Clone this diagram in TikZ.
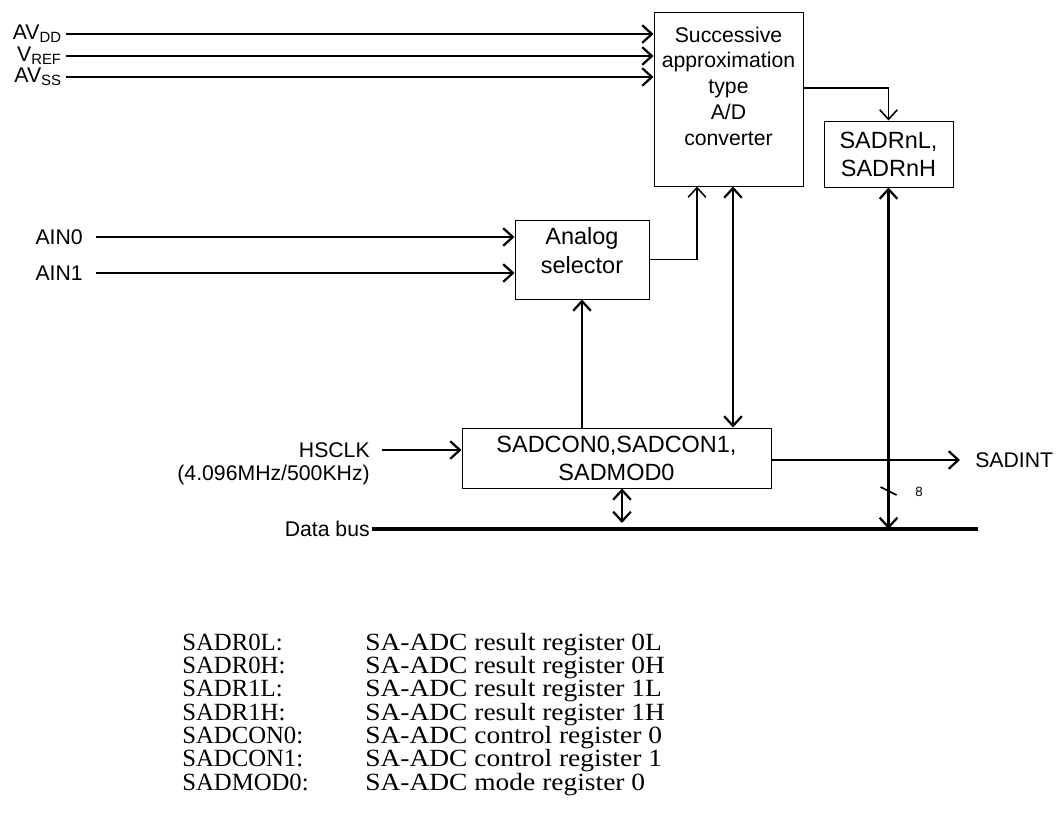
\documentclass[tikz,border=0pt]{standalone}
\usepackage{fontspec}
\setmainfont{Liberation Sans}
\newfontfamily\legendfont{Liberation Serif}
\newfontfamily\descfont[FakeStretch=1.11]{Liberation Serif}
\usetikzlibrary{positioning,arrows.meta,calc}
\tikzset{
  block/.style={draw,line width=0.7pt,align=center,inner sep=0pt,font=\fontsize{16.7}{20}\selectfont},
  signame/.style={inner sep=0pt,font=\fontsize{15.1}{18}\selectfont},
  sig/.style={-{Straight Barb[length=2.4mm,width=4.4mm]},line width=1.6pt},
  thinsig/.style={-{Straight Barb[length=2.4mm,width=4.4mm]},line width=1.1pt},
  bisig/.style={{Straight Barb[length=2.4mm,width=4.4mm]}-{Straight Barb[length=2.4mm,width=4.4mm]},line width=1.6pt},
  databus/.style={line width=2.4pt},
  legtext/.style={anchor=base west,inner sep=0pt,font=\legendfont\fontsize{17.6}{21}\selectfont}
}
\begin{document}
\begin{tikzpicture}
  \useasboundingbox (0,0) rectangle (26.4,-20.6);

  % blocks
  \node[block,font=\fontsize{15.1}{18.4}\selectfont,minimum width=3.725cm,minimum height=4.35cm] (sar) at (18.2125,-2.475) {Successive\\approximation\\type\\A/D\\converter\\\mbox{}};
  \node[block,minimum width=3.225cm,minimum height=1.65cm] (sadr) at (22.2125,-3.85) {SADRnL,\\SADRnH};
  \node[block,font=\fontsize{16.7}{21.3}\selectfont,minimum width=3.35cm,minimum height=1.975cm] (sel) at (14.55,-6.4875) {Analog\\selector\\[-8.5pt]\mbox{}};
  \node[block,minimum width=7.725cm,minimum height=1.5cm] (sadcon) at (15.4125,-11.45) {SADCON0,SADCON1,\\SADMOD0};

  % pins
  \node[signame,anchor=east,inner xsep=0.1cm] (avdd) at (1.65,-0.85) {AV\textsubscript{DD}};
  \node[signame,anchor=east,inner xsep=0.1cm] (vref) at (1.65,-1.4) {V\textsubscript{REF}};
  \node[signame,anchor=east,inner xsep=0.1cm] (avss) at (1.65,-1.925) {AV\textsubscript{SS}};
  \node[signame,anchor=east,inner xsep=0.325cm] (ain0) at (2.4,-5.925) {AIN0};
  \node[signame,anchor=east,inner xsep=0.325cm] (ain1) at (2.4,-6.825) {AIN1};
  \node[signame,anchor=east,inner xsep=0.3cm] (hsclk) at (9.55,-11.25) {HSCLK};
  \node[signame,anchor=east] (hsfreq) at (9.25,-11.875) {(4.096MHz/500KHz)};
  \node[signame,anchor=east,inner xsep=0.05cm] (dbus) at (9.3,-13.225) {Data bus};
  \node[signame,anchor=west,inner xsep=0.375cm] (sadint) at (24.0,-11.5) {SADINT};

  % inputs
  \draw[sig] (avdd.east) -- (avdd.east -| sar.west);
  \draw[sig] (vref.east) -- (vref.east -| sar.west);
  \draw[sig] (avss.east) -- (avss.east -| sar.west);
  \draw[sig] (ain0.east) -- (ain0.east -| sel.west);
  \draw[sig] (ain1.east) -- (ain1.east -| sel.west);
  \draw[sig] (hsclk.east) -- (hsclk.east -| sadcon.west);

  % internal connections
  \draw[thinsig] (sel.east) -| ([xshift=-0.7875cm]sar.south);
  \draw[thinsig] ([yshift=0.275cm]sar.east) -| (sadr.north);
  \coordinate (adtap) at ([xshift=0.1125cm]sar.south);
  \draw[bisig] (adtap) -- (adtap |- sadcon.north);
  \draw[sig] (sel.south |- sadcon.north) -- (sel.south);
  \draw[sig] (sadcon.east |- sadint.west) -- (sadint.west);

  % data bus
  \coordinate (busend) at (24.45,-13.225);
  \draw[databus] (dbus.east) -- (busend);
  \coordinate (cfgtap) at ([xshift=0.1375cm]sadcon.south);
  \draw[bisig,shorten >=0.15cm] (cfgtap) -- (cfgtap |- dbus.east);
  \draw[bisig] (sadr.south) -- (sadr.south |- dbus.east);
  \coordinate (buscut) at (sadr.south |- 0,-12.275);
  \draw[line width=1.2pt] ($(buscut)+(-0.2,0.1)$) -- ($(buscut)+(0.2,-0.1)$);
  \node[anchor=west,inner sep=0pt,font=\fontsize{9.5}{11}\selectfont] (buswidth) at (22.875,-12.3) {8};

  % register list
  \foreach \reg/\desc [count=\i] in {SADR0L/result register 0L,SADR0H/result register 0H,SADR1L/result register 1L,SADR1H/result register 1H,SADCON0/control register 0,SADCON1/control register 1,SADMOD0/mode register 0} {
    \node[legtext] (reg\i) at ({4.55},{-16.25-0.5833*(\i-1)}) {\reg:};
    \node[legtext,font=\descfont\fontsize{17.6}{21}\selectfont] (desc\i) at ({9.125},{-16.25-0.5833*(\i-1)}) {SA-ADC \desc};
  }
\end{tikzpicture}
\end{document}
